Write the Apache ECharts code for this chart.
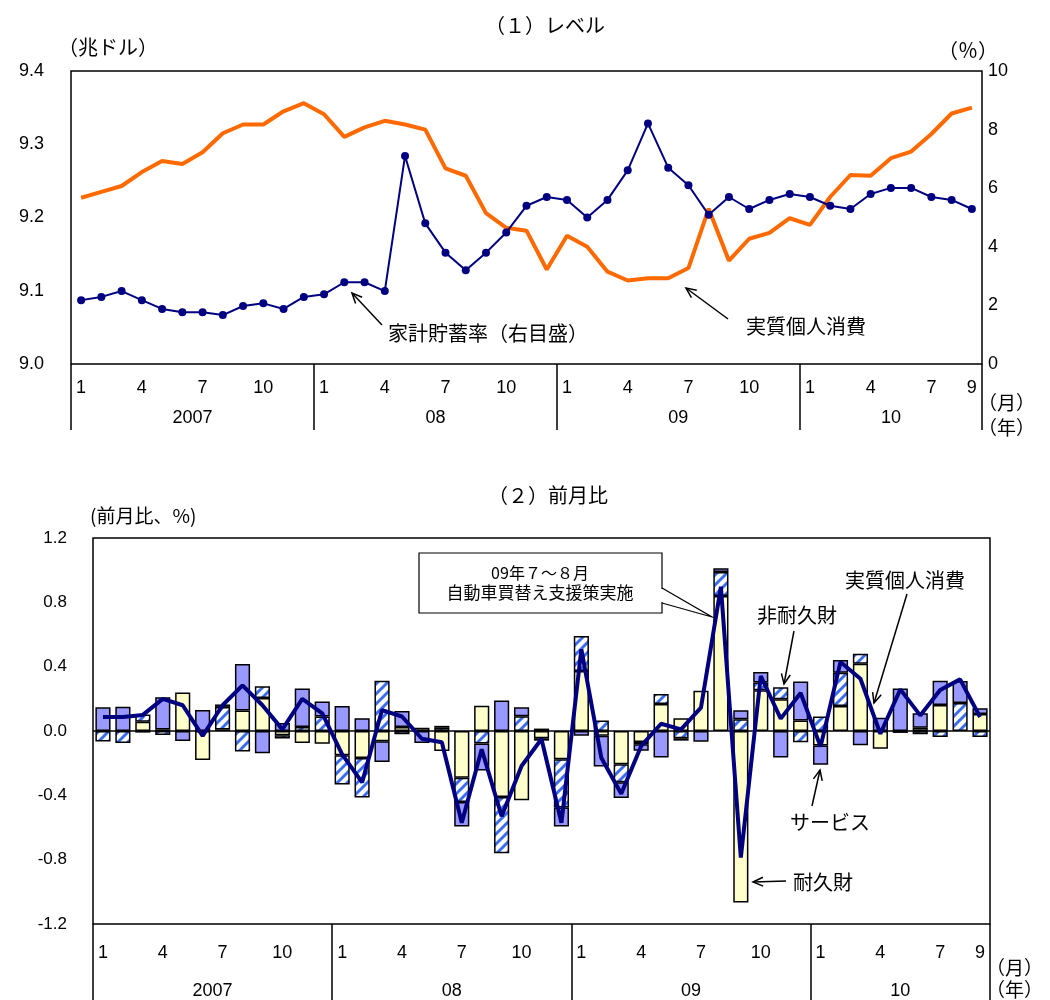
<!DOCTYPE html>
<html><head><meta charset="utf-8">
<script src="https://cdn.jsdelivr.net/npm/echarts@6/dist/echarts.min.js"></script>
<style>html,body{margin:0;padding:0;background:#fff}#c{width:1050px;height:1000px}</style>
</head><body><div id="c"></div>
<script>
// ---------- data ----------
const years = ['2007', '08', '09', '10'];
const monthsPerYear = [12, 12, 12, 9];

// (1) level: real personal consumption (trillion $, left) / saving rate (%, right)
const consumption = [9.227, 9.235, 9.243, 9.262, 9.277, 9.273, 9.289, 9.315, 9.327, 9.327, 9.345, 9.356,
  9.341, 9.310, 9.323, 9.332, 9.327, 9.320, 9.267, 9.257, 9.206, 9.186, 9.182, 9.129,
  9.175, 9.160, 9.126, 9.114, 9.117, 9.117, 9.131, 9.212, 9.141, 9.171, 9.179, 9.199,
  9.190, 9.228, 9.258, 9.257, 9.281, 9.290, 9.314, 9.342, 9.350];
const savingRate = [2.18, 2.29, 2.49, 2.18, 1.88, 1.77, 1.77, 1.67, 1.98, 2.07, 1.88, 2.29,
  2.38, 2.79, 2.79, 2.49, 7.10, 4.80, 3.80, 3.20, 3.80, 4.49, 5.40, 5.70,
  5.60, 5.00, 5.60, 6.61, 8.21, 6.70, 6.10, 5.09, 5.70, 5.29, 5.60, 5.80,
  5.70, 5.40, 5.29, 5.80, 6.01, 6.01, 5.70, 5.60, 5.29];

// (2) month-on-month contributions (%)
const durable = [0, 0, 0.058, 0.01, 0.24, -0.18, 0.01, 0.128, 0.205, -0.027, -0.075, -0.08,
  -0.15, -0.168, -0.064, 0.025, 0.02, -0.125, -0.29, 0.157, -0.41, -0.43, -0.045, -0.176,
  0.373, -0.03, -0.207, -0.068, 0.168, 0.08, 0.25, 0.84, -1.067, 0.253, 0.197, 0.066,
  -0.09, 0.155, 0.418, -0.11, -0.012, 0.02, 0.162, 0, 0.106];
const nondurable = [-0.066, -0.075, 0.045, -0.025, 0, 0, 0.14, -0.128, 0.073, -0.02, 0.025, 0.09,
  -0.183, -0.245, 0.313, -0.02, 0, 0.02, -0.151, -0.077, -0.35, 0.092, 0.015, -0.3,
  0.218, 0.066, -0.112, -0.015, 0.062, -0.045, 0, 0.149, 0.073, 0.048, 0.075, -0.07,
  0.09, 0.207, 0.062, 0, 0, -0.02, -0.037, 0.174, -0.037];
const services = [0.147, 0.151, -0.01, 0.2, -0.062, 0.13, 0.015, 0.288, -0.139, 0.05, 0.24, 0.093,
  0.155, 0.08, -0.128, 0.1, -0.075, 0.012, -0.153, -0.168, 0.19, 0.055, -0.015, -0.118,
  -0.03, -0.19, -0.097, -0.04, -0.164, -0.015, -0.067, 0.023, 0.056, 0.066, -0.165, 0.241,
  -0.12, 0.079, -0.089, 0.083, 0.265, 0.09, 0.151, 0.137, 0.035];
const pceMoM = [0.087, 0.087, 0.1, 0.2, 0.16, -0.03, 0.16, 0.284, 0.16, 0.01, 0.2, 0.11,
  -0.145, -0.32, 0.13, 0.09, -0.048, -0.07, -0.57, -0.114, -0.53, -0.218, -0.05, -0.57,
  0.508, -0.166, -0.39, -0.093, 0.045, 0.01, 0.145, 0.897, -0.787, 0.342, 0.077, 0.236,
  -0.097, 0.429, 0.325, -0.017, 0.259, 0.097, 0.255, 0.321, 0.087];

// ---------- derived helpers ----------
const categories = [];
years.forEach((y, i) => { for (let m = 1; m <= monthsPerYear[i]; m++) categories.push(y + '-' + m); });
const lastIdx = categories.length - 1;
const yearStarts = new Set();
const yearCenters = {};
(function () { let s = 0; years.forEach((y, i) => { yearStarts.add(s); yearCenters[(s + monthsPerYear[i] / 2).toFixed(1)] = y; s += monthsPerYear[i]; }); })();
const nz = arr => arr.map(v => (v === 0 ? '-' : v));

const hatch = document.createElement('canvas');
hatch.width = 10; hatch.height = 10;
(function () {
  const g = hatch.getContext('2d');
  g.fillStyle = '#ffffff'; g.fillRect(0, 0, 10, 10);
  g.strokeStyle = '#3a6df0'; g.lineWidth = 3;
  g.beginPath();
  g.moveTo(-1, 11); g.lineTo(11, -1);
  g.moveTo(-6, 6); g.lineTo(6, -6);
  g.moveTo(4, 16); g.lineTo(16, 4);
  g.stroke();
})();

const NUM_FONT = '"Liberation Sans", Arial, sans-serif';
const JP_FONT = '"Noto Sans CJK JP", sans-serif';

function catAxis(gridIndex, tickLen, margin) {
  return {
    type: 'category', gridIndex, data: categories, boundaryGap: true, position: 'bottom',
    axisLine: { show: false, onZero: false },
    axisTick: { show: true, length: tickLen, inside: false, interval: (i) => yearStarts.has(i), lineStyle: { color: '#000', width: 1.5 } },
    axisLabel: { interval: (i) => i % 3 === 0 || i === lastIdx, formatter: (v) => v.split('-')[1], margin, fontSize: 18, color: '#000', fontFamily: NUM_FONT },
    splitLine: { show: false }
  };
}
function yearAxis(gridIndex, margin) {
  return {
    type: 'value', gridIndex, min: 0, max: categories.length, interval: 0.5, position: 'bottom',
    axisLine: { show: false, onZero: false }, axisTick: { show: false }, splitLine: { show: false },
    axisLabel: { margin, fontSize: 18, color: '#000', fontFamily: NUM_FONT, showMinLabel: true, showMaxLabel: true,
      formatter: (v) => yearCenters[Number(v).toFixed(1)] || '' }
  };
}
function txt(text, x, y, size, align, font) {
  return { type: 'text', z: 100, style: { text, x, y, fontSize: size, fontFamily: font || JP_FONT, fill: '#000', textAlign: align || 'left', textVerticalAlign: 'middle' } };
}
function arrow(x1, y1, x2, y2) {
  const a = Math.atan2(y2 - y1, x2 - x1), L = 11, w = 0.42;
  const p1 = [x2 - L * Math.cos(a - w), y2 - L * Math.sin(a - w)];
  const p2 = [x2 - L * Math.cos(a + w), y2 - L * Math.sin(a + w)];
  return [
    { type: 'line', z: 100, shape: { x1, y1, x2, y2 }, style: { stroke: '#000', lineWidth: 1.5 } },
    { type: 'polyline', z: 100, shape: { points: [p1, [x2, y2], p2] }, style: { stroke: '#000', lineWidth: 1.5, fill: null } }
  ];
}

const barStyle = (color) => ({ color, borderColor: '#000', borderWidth: 1.5 });

const option = {
  animation: false,
  backgroundColor: '#fff',
  grid: [
    { left: 71, top: 71, width: 911, height: 293, show: true, borderColor: '#000', borderWidth: 1.5, containLabel: false },
    { left: 93, top: 538, width: 897, height: 386, show: true, borderColor: '#000', borderWidth: 1.5, containLabel: false }
  ],
  xAxis: [catAxis(0, 66, 15), yearAxis(0, 45), catAxis(1, 78, 20), yearAxis(1, 58)],
  yAxis: [
    { type: 'value', gridIndex: 0, min: 9.0, max: 9.4, interval: 0.1, position: 'left',
      axisLine: { show: false }, axisTick: { show: false }, splitLine: { show: false },
      axisLabel: { margin: 27, fontSize: 18, color: '#000', fontFamily: NUM_FONT, formatter: v => v.toFixed(1) } },
    { type: 'value', gridIndex: 0, min: 0, max: 10, interval: 2, position: 'right',
      axisLine: { show: false }, axisTick: { show: false }, splitLine: { show: false },
      axisLabel: { margin: 6, fontSize: 18, color: '#000', fontFamily: NUM_FONT } },
    { type: 'value', gridIndex: 1, min: -1.2, max: 1.2, interval: 0.4, position: 'left',
      axisLine: { show: false }, axisTick: { show: false }, splitLine: { show: false },
      axisLabel: { margin: 26, fontSize: 17, color: '#000', fontFamily: NUM_FONT, formatter: v => (Math.abs(v) < 1e-9 ? '0.0' : v.toFixed(1)) } }
  ],
  series: [
    { name: '実質個人消費', type: 'line', xAxisIndex: 0, yAxisIndex: 0, data: consumption, symbol: 'none',
      lineStyle: { color: '#ff6a00', width: 4 }, z: 3 },
    { name: '家計貯蓄率', type: 'line', xAxisIndex: 0, yAxisIndex: 1, data: savingRate, symbol: 'circle', symbolSize: 8,
      itemStyle: { color: '#000080' }, lineStyle: { color: '#000080', width: 2 }, z: 4 },
    { name: '耐久財', type: 'bar', xAxisIndex: 2, yAxisIndex: 2, stack: 'c', data: nz(durable), barWidth: '76%',
      itemStyle: barStyle('#ffffcc') },
    { name: '非耐久財', type: 'bar', xAxisIndex: 2, yAxisIndex: 2, stack: 'c', data: nz(nondurable), barWidth: '76%',
      itemStyle: barStyle({ image: hatch, repeat: 'repeat' }) },
    { name: 'サービス', type: 'bar', xAxisIndex: 2, yAxisIndex: 2, stack: 'c', data: nz(services), barWidth: '76%',
      itemStyle: barStyle('#9999ff') },
    { name: '実質個人消費(前月比)', type: 'line', xAxisIndex: 2, yAxisIndex: 2, data: pceMoM, symbol: 'none',
      lineStyle: { color: '#000080', width: 4 }, z: 5,
      markLine: { silent: true, symbol: ['none', 'none'], label: { show: false }, lineStyle: { color: '#000', width: 1.5, type: 'solid' },
        data: [{ yAxis: 0 }] } }
  ],
  graphic: [
    txt('（１）レベル', 545, 25, 20, 'center'),
    txt('（兆ドル）', 58, 47, 20),
    txt('（％）', 998, 50, 20, 'right'),
    txt('（月）', 978, 403, 19),
    txt('（年）', 978, 428, 19),
    txt('家計貯蓄率（右目盛）', 388, 333, 20),
    ...arrow(382, 325, 352, 293),
    txt('実質個人消費', 746, 326, 20),
    ...arrow(728, 319, 686, 288),
    txt('（２）前月比', 548, 495, 20, 'center'),
    txt('(前月比、%)', 90, 516, 19),
    txt('（月）', 986, 968, 19),
    txt('（年）', 986, 990, 19),
    { type: 'rect', z: 99, shape: { x: 419, y: 553, width: 243, height: 60 }, style: { fill: '#fff', stroke: '#000', lineWidth: 1.2 } },
    { type: 'line', z: 100, shape: { x1: 662, y1: 589, x2: 662, y2: 602 }, style: { stroke: '#fff', lineWidth: 3 } },
    { type: 'polyline', z: 100, shape: { points: [[662, 588], [712, 617], [662, 603]] }, style: { stroke: '#000', lineWidth: 1.2, fill: null } },
    txt('09年７～８月', 540, 573, 16, 'center'),
    txt('自動車買替え支援策実施', 540, 593, 17, 'center'),
    txt('非耐久財', 757, 615, 20),
    ...arrow(794, 631, 784, 684),
    txt('実質個人消費', 845, 580, 20),
    ...arrow(907, 594, 874, 703),
    txt('サービス', 790, 822, 20),
    ...arrow(812, 806, 820, 770),
    txt('耐久財', 793, 882, 20),
    ...arrow(786, 881, 753, 882)
  ]
};
const chart = echarts.init(document.getElementById('c'), null, { renderer: 'canvas' });
chart.setOption(option);
</script>
</body></html>
